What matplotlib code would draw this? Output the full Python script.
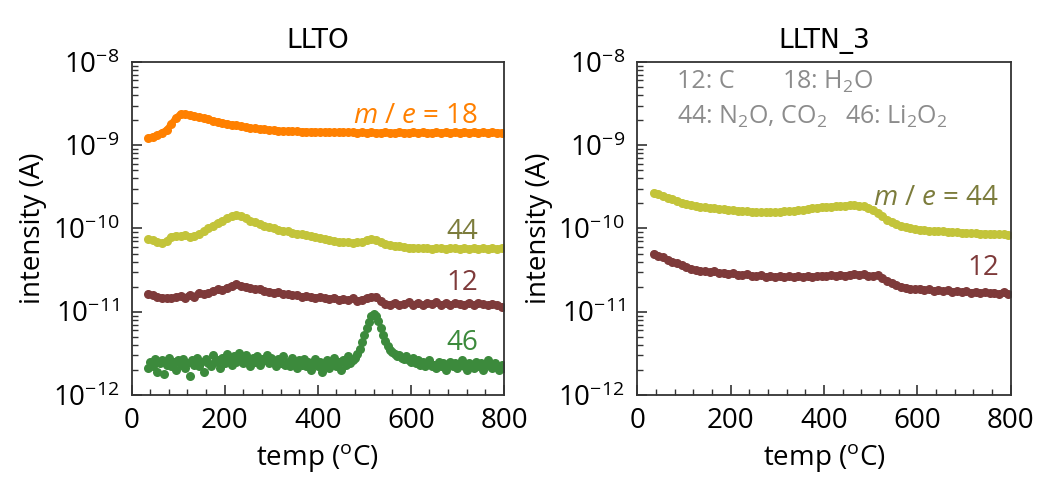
import numpy as np
import matplotlib
matplotlib.use("Agg")
import matplotlib.pyplot as plt
from matplotlib.ticker import LogLocator, MultipleLocator, NullFormatter

plt.rcParams['font.family'] = ['Open Sans', 'DejaVu Sans']
plt.rcParams['mathtext.fontset'] = 'custom'
plt.rcParams['mathtext.rm'] = 'Open Sans'
plt.rcParams['mathtext.it'] = 'Open Sans:italic'

# temperatures (deg C) for the smooth traces, 10 degree steps
temp = np.arange(35, 800, 10)
# finer grid for the noisy m/e = 46 trace
temp_fine = np.arange(35, 801, 5)

# ---- LLTO ----
llto_18 = [1.22, 1.27, 1.33, 1.42, 1.52, 1.80, 2.12, 2.38, 2.36, 2.30,
           2.24, 2.17, 2.11, 2.04, 1.98, 1.92, 1.87, 1.82, 1.77, 1.73,
           1.69, 1.65, 1.62, 1.59, 1.57, 1.55, 1.53, 1.52, 1.50, 1.49,
           1.48, 1.47, 1.47, 1.46, 1.46, 1.45, 1.45, 1.45, 1.44, 1.44,
           1.44, 1.43, 1.44, 1.43, 1.43, 1.42, 1.43, 1.42, 1.43, 1.42,
           1.42, 1.43, 1.42, 1.42, 1.43, 1.42, 1.42, 1.43, 1.42, 1.43,
           1.42, 1.42, 1.43, 1.42, 1.43, 1.42, 1.43, 1.42, 1.43, 1.42,
           1.43, 1.42, 1.43, 1.42, 1.43, 1.42, 1.42]  # x1e-9 A

llto_44 = [7.4, 7.2, 6.9, 6.7, 7.0, 8.0, 8.2, 8.1, 8.3, 8.0,
           8.1, 8.5, 9.2, 10.0, 10.8, 11.6, 12.4, 13.2, 14.0, 14.5,
           14.0, 13.2, 12.4, 11.8, 11.2, 10.8, 10.3, 10.0, 9.7, 9.4,
           9.2, 8.9, 8.7, 8.5, 8.3, 8.1, 7.9, 7.7, 7.5, 7.3,
           7.1, 6.9, 6.8, 6.8, 6.7, 6.8, 6.9, 7.2, 7.4, 7.3,
           6.8, 6.5, 6.3, 6.2, 6.1, 6.0, 5.9, 5.9, 5.8, 5.8,
           5.8, 5.7, 5.8, 5.8, 5.7, 5.8, 5.8, 5.7, 5.8, 5.7,
           5.8, 5.7, 5.8, 5.7, 5.8, 5.7, 5.8]  # x1e-11 A

llto_12 = [1.65, 1.58, 1.52, 1.48, 1.46, 1.45, 1.50, 1.55, 1.48, 1.60,
           1.52, 1.70, 1.62, 1.66, 1.78, 1.85, 1.80, 1.95, 2.05, 2.15,
           2.05, 2.00, 1.92, 1.85, 1.90, 1.78, 1.75, 1.70, 1.72, 1.65,
           1.62, 1.58, 1.60, 1.52, 1.55, 1.50, 1.47, 1.52, 1.45, 1.43,
           1.48, 1.40, 1.42, 1.38, 1.45, 1.36, 1.40, 1.45, 1.50, 1.52,
           1.35, 1.25, 1.22, 1.28, 1.20, 1.25, 1.30, 1.22, 1.27, 1.20,
           1.28, 1.24, 1.30, 1.22, 1.26, 1.20, 1.28, 1.24, 1.22, 1.28,
           1.21, 1.26, 1.23, 1.20, 1.25, 1.21, 1.15]  # x1e-11 A

llto_46 = [2.1, 2.5, 2.2, 2.7, 1.9, 2.4, 2.6, 1.8, 2.3, 2.8,
           2.2, 2.5, 2.0, 2.6, 2.3, 2.7, 2.1, 2.4, 1.7, 2.6,
           2.3, 2.8, 2.2, 2.5, 1.9, 2.7, 2.4, 2.2, 3.0, 2.5,
           2.6, 2.1, 2.8, 2.4, 3.1, 2.6, 2.3, 2.9, 2.5, 3.2,
           2.7, 2.4, 3.0, 2.6, 2.2, 2.8, 2.5, 2.9, 2.3, 2.7,
           2.6, 3.0, 2.4, 2.8, 2.5, 2.2, 2.7, 2.4, 2.9, 2.3,
           2.5, 2.2, 2.8, 2.4, 2.1, 2.6, 2.3, 2.7, 2.2, 2.5,
           2.0, 2.4, 2.7, 2.2, 2.5, 1.9, 2.3, 2.6, 2.1, 2.4,
           2.8, 2.2, 2.5, 2.0, 2.6, 2.3, 2.9, 2.4, 2.6, 2.8,
           3.1, 3.6, 4.3, 5.2, 6.3, 7.6, 8.8, 9.4, 8.9, 7.8,
           6.4, 5.3, 4.5, 3.9, 3.5, 3.3, 3.1, 2.9, 3.0, 2.8,
           2.7, 2.9, 2.6, 2.5, 2.8, 2.4, 2.6, 2.3, 2.5, 2.2,
           2.4, 2.6, 2.2, 2.3, 2.1, 2.5, 2.2, 2.4, 2.0, 2.3,
           2.5, 2.2, 2.4, 2.1, 2.3, 2.6, 2.2, 2.0, 2.4, 2.3,
           2.1, 2.5, 2.2, 2.4, 2.0, 2.3, 2.6, 2.2, 2.1, 2.4,
           2.2, 2.0, 2.3, 2.1]  # x1e-12 A

# ---- LLTN_3 ----
lltn_44 = [2.70, 2.58, 2.45, 2.35, 2.25, 2.15, 2.05, 1.98, 1.92, 1.86,
           1.82, 1.79, 1.76, 1.74, 1.72, 1.70, 1.68, 1.66, 1.64, 1.62,
           1.60, 1.58, 1.57, 1.56, 1.56, 1.56, 1.57, 1.58, 1.60, 1.61,
           1.63, 1.65, 1.67, 1.70, 1.74, 1.78, 1.80, 1.82, 1.83, 1.84,
           1.86, 1.88, 1.90, 1.90, 1.88, 1.84, 1.78, 1.68, 1.55, 1.40,
           1.28, 1.20, 1.12, 1.07, 1.03, 1.00, 0.98, 0.97, 0.95, 0.94,
           0.93, 0.93, 0.92, 0.91, 0.91, 0.90, 0.89, 0.89, 0.88, 0.88,
           0.87, 0.87, 0.86, 0.86, 0.85, 0.85, 0.84]  # x1e-10 A

lltn_12 = [5.0, 4.7, 4.5, 4.2, 4.0, 3.8, 3.6, 3.45, 3.3, 3.15,
           3.1, 3.05, 3.0, 3.1, 2.9, 2.95, 2.85, 2.9, 2.8, 2.75,
           2.85, 2.7, 2.65, 2.75, 2.6, 2.7, 2.62, 2.68, 2.6, 2.65,
           2.58, 2.66, 2.6, 2.7, 2.62, 2.68, 2.72, 2.66, 2.75, 2.7,
           2.78, 2.72, 2.8, 2.85, 2.78, 2.82, 2.72, 2.7, 2.75, 2.55,
           2.35, 2.2, 2.1, 2.0, 1.95, 1.9, 1.85, 1.9, 1.82, 1.85,
           1.78, 1.82, 1.76, 1.8, 1.74, 1.78, 1.72, 1.76, 1.7, 1.74,
           1.68, 1.72, 1.66, 1.7, 1.64, 1.72, 1.62]  # x1e-11 A

c_orange = '#ff8000'
c_yellow = '#c3c43a'
c_red = '#7e3a3a'
c_green = '#3c8a3c'
c_olive = '#7c7c3c'
c_gray = '#8c8c8c'

fig = plt.figure(figsize=(10.44, 5.01), dpi=100)
ax1 = fig.add_axes([0.1261, 0.2116, 0.3566, 0.6647])
ax2 = fig.add_axes([0.6104, 0.2116, 0.3577, 0.6647])


def trace(ax, x, y, color, band=True):
    # dense dots; smooth traces also get a band underneath so they read as one thick stroke
    if band:
        ax.plot(x, y, '-', color=color, lw=4.5, solid_capstyle='round')
    ax.plot(x, y, 'o', color=color, ms=6.5, mew=0)


trace(ax1, temp, np.array(llto_18) * 1e-9, c_orange)
trace(ax1, temp, np.array(llto_44) * 1e-11, c_yellow)
trace(ax1, temp, np.array(llto_12) * 1e-11, c_red)
trace(ax1, temp_fine, np.array(llto_46) * 1e-12, c_green, band=False)

trace(ax2, temp, np.array(lltn_44) * 1e-10, c_yellow)
trace(ax2, temp, np.array(lltn_12) * 1e-11, c_red)

fs = 20
for ax, title in [(ax1, 'LLTO'), (ax2, 'LLTN_3')]:
    ax.set_yscale('log')
    ax.set_ylim(1e-12, 1e-8)
    ax.set_xlim(0, 800)
    ax.xaxis.set_major_locator(MultipleLocator(200))
    ax.xaxis.set_minor_locator(MultipleLocator(40))
    ax.yaxis.set_major_locator(LogLocator(base=10, numticks=10))
    ax.yaxis.set_minor_locator(LogLocator(base=10, subs=np.arange(2, 10), numticks=10))
    ax.yaxis.set_minor_formatter(NullFormatter())
    ax.set_yticks([1e-12, 1e-11, 1e-10, 1e-9, 1e-8])
    ax.set_yticklabels(['$10^{-12}$', '$10^{-11}$', '$10^{-10}$', '$10^{-9}$', '$10^{-8}$'])
    ax.tick_params(which='both', direction='in', top=False, right=False,
                   color='#333333', labelsize=fs, pad=9)
    ax.tick_params(which='major', length=7, width=1.2)
    ax.tick_params(which='minor', length=4, width=1)
    for s in ax.spines.values():
        s.set_color('#333333')
        s.set_linewidth(1.3)
    ax.set_xlabel('temp ($^{\\mathrm{o}}$C)', fontsize=fs, labelpad=5)
    ax.set_ylabel('intensity (A)', fontsize=fs, labelpad=4)
    ax.set_title(title, fontsize=19, pad=10,
                 family=['Liberation Sans Narrow', 'DejaVu Sans'])

lfs = 20
ax1.text(744, 2.24e-9, '$m$ / $e$ = 18', color=c_orange, fontsize=lfs, ha='right', va='center')
ax1.text(744, 9.1e-11, '44', color=c_olive, fontsize=lfs, ha='right', va='center')
ax1.text(744, 2.2e-11, '12', color=c_red, fontsize=lfs, ha='right', va='center')
ax1.text(744, 4.2e-12, '46', color=c_green, fontsize=lfs, ha='right', va='center')

ax2.text(775, 2.32e-10, '$m$ / $e$ = 44', color=c_olive, fontsize=lfs, ha='right', va='center')
ax2.text(775, 3.36e-11, '12', color=c_red, fontsize=lfs, ha='right', va='center')

afs = 18
ax2.text(85, 5.75e-9, '12: C', color=c_gray, fontsize=afs, va='center')
ax2.text(311, 5.75e-9, '18: H$_2$O', color=c_gray, fontsize=afs, va='center')
ax2.text(85, 2.2e-9, '44: N$_2$O, CO$_2$', color=c_gray, fontsize=afs, va='center')
ax2.text(445, 2.2e-9, '46: Li$_2$O$_2$', color=c_gray, fontsize=afs, va='center')

fig.savefig('out.png', dpi=100)
